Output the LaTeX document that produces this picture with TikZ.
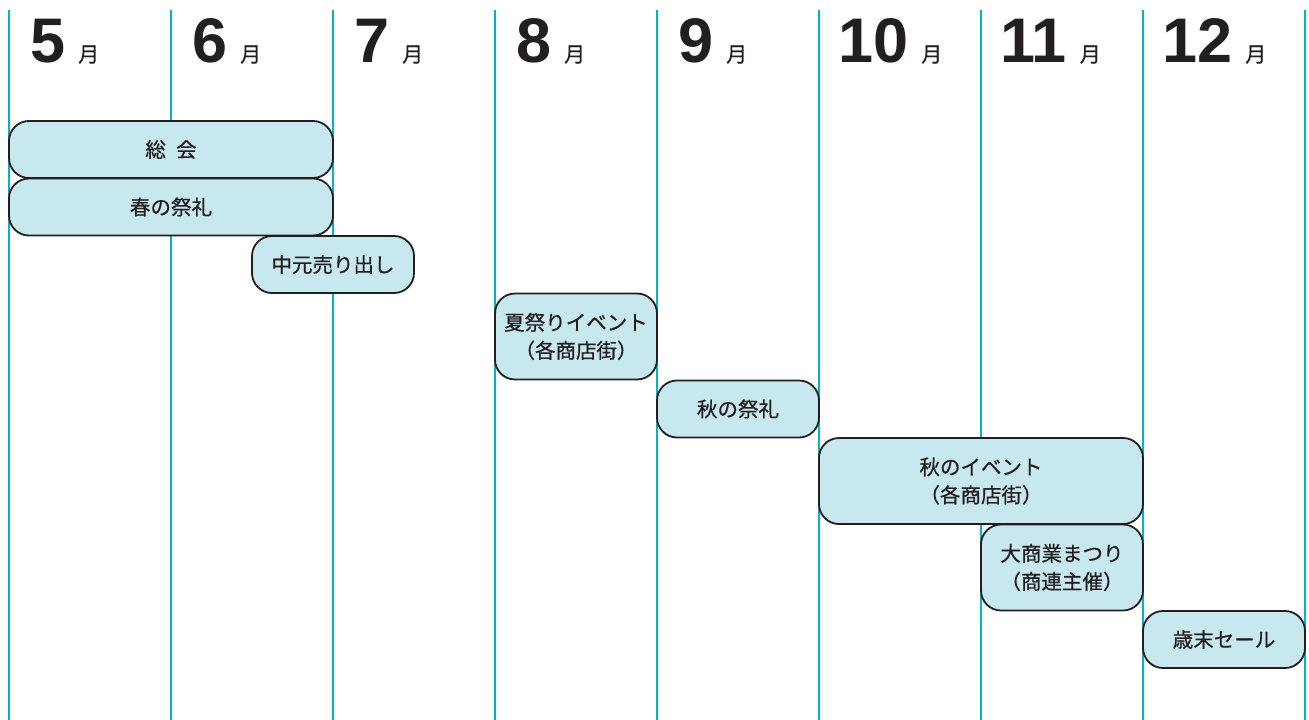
\documentclass[tikz,border=0pt]{standalone}
\usepackage{fontspec}
\setmainfont{Liberation Sans}
\newfontfamily\cjk{Noto Sans CJK JP}
\newfontfamily\cjkb[FakeBold=0.6]{Noto Sans CJK JP}
\definecolor{gridcyan}{HTML}{00B4CA}
\definecolor{boxfill}{HTML}{C8E8F0}
\definecolor{ink}{HTML}{231F20}
\tikzset{
  gridline/.style={draw=gridcyan, line width=2.4pt},
  evbox/.style={draw=ink, fill=boxfill, line width=1.8pt, rounded corners=20pt,
    inner sep=0pt, align=center, font=\cjkb\fontsize{20.5}{28}\selectfont, text=ink},
  monthlbl/.style={anchor=base west, inner sep=0pt, text=ink}
}
\newcommand{\mlabel}[1]{{\fontsize{63}{63}\selectfont\bfseries #1}\hspace{13pt}{\cjkb\fontsize{21}{21}\selectfont 月}}
\begin{document}
\begin{tikzpicture}[x=1pt,y=-1pt]
\useasboundingbox (0,0) rectangle (1309,720);
\fill[white] (0,0) rectangle (1309,720);
% grid lines
\foreach \i in {0,...,8} {
  \draw[gridline] ({9+162*\i},10) -- ({9+162*\i},720);
}
% month labels
\node[monthlbl] (m5) at (30,62) {\mlabel{5}};
\node[monthlbl] (m6) at (192,62) {\mlabel{6}};
\node[monthlbl] (m7) at (354,62) {\mlabel{7}};
\node[monthlbl] (m8) at (516,62) {\mlabel{8}};
\node[monthlbl] (m9) at (678,62) {\mlabel{9}};
\node[monthlbl] (m10) at (838,62) {\mlabel{10}};
\node[monthlbl] (m11) at (1000,62) {\mlabel{11}};
\node[monthlbl] (m12) at (1162,62) {\mlabel{12}};
% event boxes
\node[evbox, minimum width=324pt, minimum height=57pt] (b1) at (171,149.5) {総\hspace{0.5em}会};
\node[evbox, minimum width=324pt, minimum height=57pt] (b2) at (171,207) {春の祭礼};
\node[evbox, minimum width=162pt, minimum height=57pt] (b3) at (333,264.5) {中元売り出し};
\node[evbox, minimum width=162pt, minimum height=86pt] (b4) at (576,336.5) {夏祭りイベント\\（各商店街）};
\node[evbox, minimum width=162pt, minimum height=57pt] (b5) at (738,409) {秋の祭礼};
\node[evbox, minimum width=324pt, minimum height=86pt] (b6) at (981,481) {秋のイベント\\（各商店街）};
\node[evbox, minimum width=162pt, minimum height=86pt] (b7) at (1062,567.5) {大商業まつり\\（商連主催）};
\node[evbox, minimum width=162pt, minimum height=57pt] (b8) at (1224,639.5) {歳末セール};
\end{tikzpicture}
\end{document}
